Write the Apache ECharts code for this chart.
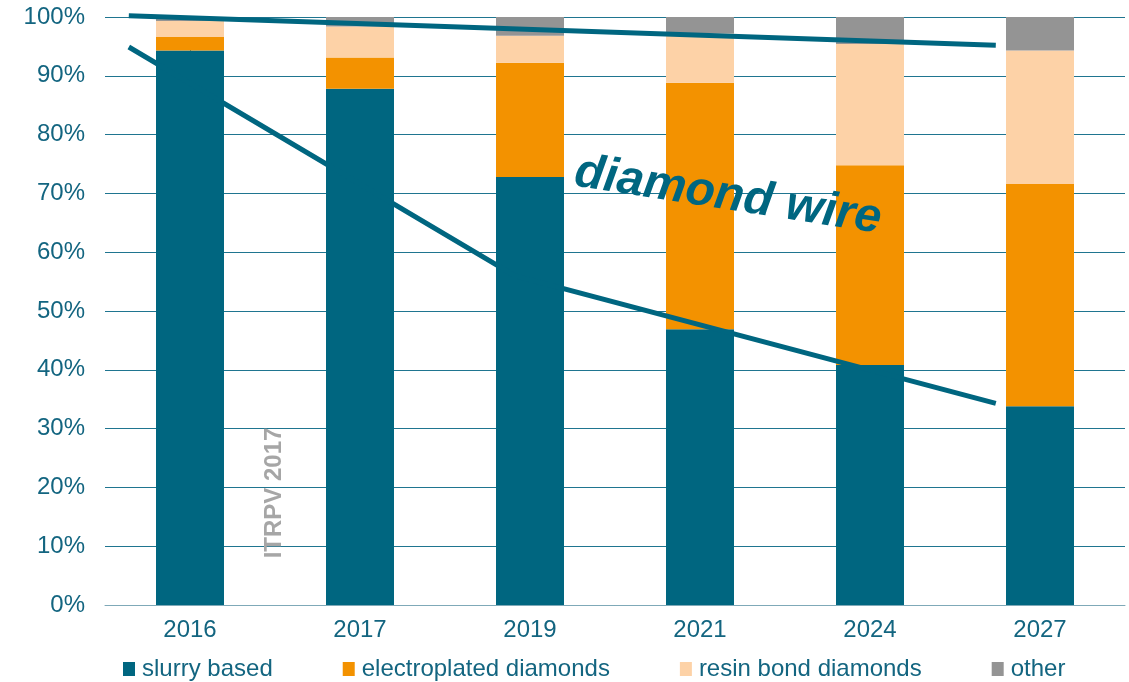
<!DOCTYPE html>
<html>
<head>
<meta charset="utf-8">
<script src="https://cdn.jsdelivr.net/npm/echarts@6/dist/echarts.min.js"></script>
<style>
  html, body { margin: 0; padding: 0; background: #fff; }
  #chart { width: 1129px; height: 682px; }
</style>
</head>
<body>
<div id="chart"></div>
<script>
// Wafering technology shares by year (percent of market)
const years = ['2016', '2017', '2019', '2021', '2024', '2027'];
const slurryBased = [94.3, 87.8, 72.8, 46.9, 40.8, 33.8];
const electroplated = [2.3, 5.3, 19.4, 41.9, 34.0, 37.8];
const resinBond = [2.7, 5.3, 4.6, 8.4, 20.6, 22.7];
const other = [0.7, 1.6, 3.2, 2.8, 4.6, 5.7];

// Trend lines as [category position, percent]
const upperTrend = [[-0.36, 100.2], [4.74, 95.2]];
const lowerTrend = [[-0.36, 94.9], [1.91, 56.0], [4.74, 34.3]];

const yTicks = [0, 10, 20, 30, 40, 50, 60, 70, 80, 90, 100];

const teal = '#006680';
const textColor = '#136580';
const font = 'Liberation Sans, Arial, sans-serif';

const chart = echarts.init(document.getElementById('chart'), null, { renderer: 'canvas' });

const barSeries = (name, data, color) => ({
  name, type: 'bar', stack: 'share', data,
  barCategoryGap: '60%',
  itemStyle: { color },
  emphasis: { disabled: true }
});

const trendSeries = (data) => ({
  type: 'line', xAxisIndex: 1, data,
  symbol: 'none', clip: false, silent: true,
  lineStyle: { color: teal, width: 5, join: 'miter' },
  z: 5
});

chart.setOption({
  animation: false,
  backgroundColor: '#fff',
  grid: { left: 105, right: 4, top: 17, bottom: 77 },
  legend: {
    top: 652, left: 118,
    itemWidth: 12, itemHeight: 14, itemGap: 70,
    icon: 'rect',
    textStyle: { color: textColor, fontSize: 24, fontFamily: font, padding: [0, 0, 0, 2] },
    data: ['slurry based', 'electroplated diamonds', 'resin bond diamonds', 'other']
  },
  xAxis: [
    {
      type: 'category', data: years,
      axisLine: { lineStyle: { color: '#7fa9b8', width: 1 } },
      axisTick: { show: false },
      axisLabel: { color: textColor, fontSize: 24, fontFamily: font, margin: 13 }
    },
    {
      type: 'value', min: -0.5, max: 5.5, show: false
    }
  ],
  yAxis: {
    type: 'value', min: yTicks[0], max: yTicks[yTicks.length - 1], interval: 10,
    axisLine: { show: true, lineStyle: { color: textColor, width: 1 } },
    axisTick: { show: false },
    axisLabel: { color: textColor, fontSize: 24, fontFamily: font, margin: 20, formatter: '{value}%' },
    splitLine: { lineStyle: { color: '#1f7590', width: 1 } }
  },
  series: [
    barSeries('slurry based', slurryBased, '#006680'),
    barSeries('electroplated diamonds', electroplated, '#f39200'),
    barSeries('resin bond diamonds', resinBond, '#fdd2a7'),
    barSeries('other', other, '#949494'),
    trendSeries(upperTrend),
    trendSeries(lowerTrend)
  ],
  graphic: [
    {
      type: 'text', x: 728, y: 196, rotation: -0.155,
      style: {
        text: 'diamond wire', fill: teal,
        font: 'italic bold 48px ' + font,
        align: 'center', verticalAlign: 'middle'
      },
      z: 10
    },
    {
      type: 'text', x: 274, y: 493, rotation: Math.PI / 2,
      style: {
        text: 'ITRPV 2017', fill: '#a6a6a6',
        font: 'bold 24px ' + font,
        align: 'center', verticalAlign: 'middle'
      },
      z: 10
    }
  ]
});
</script>
</body>
</html>
